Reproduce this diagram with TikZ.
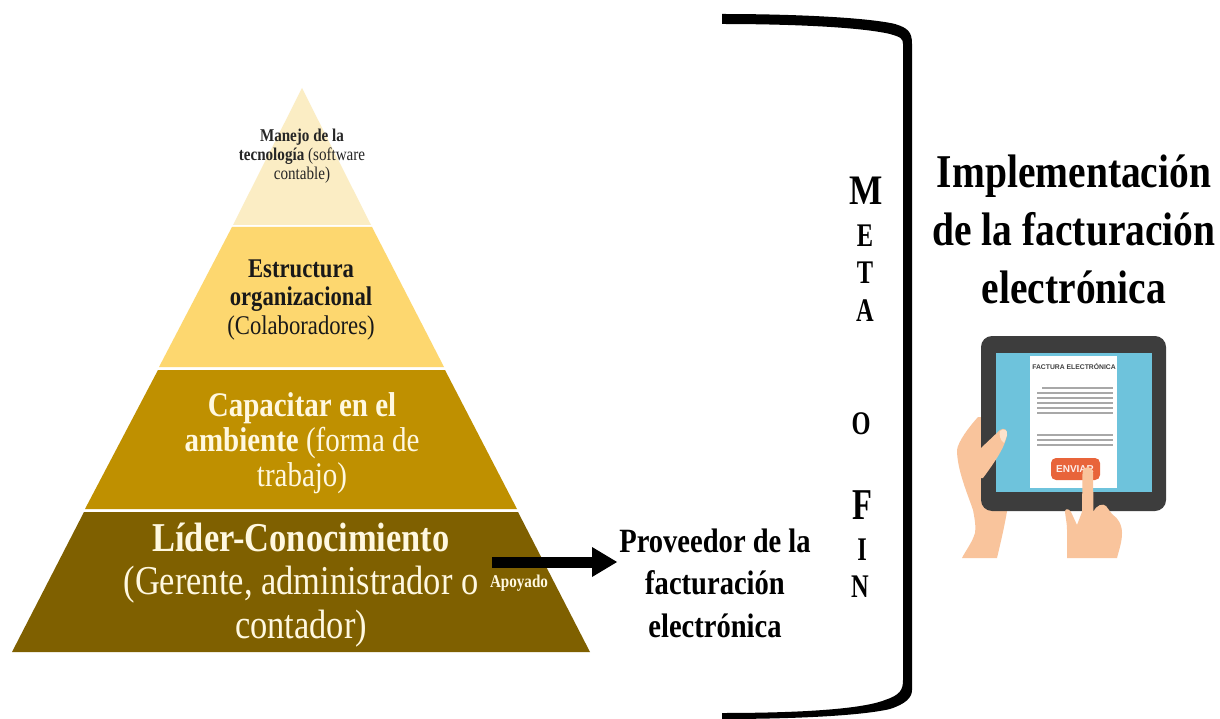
\documentclass[tikz,border=0pt]{standalone}
\usepackage{fontspec}
\setmainfont{Liberation Serif}
\newfontfamily\nrw[FakeStretch=0.84]{Liberation Serif}
\newfontfamily\nrwb[FakeStretch=0.74]{Liberation Serif}
\newfontfamily\tabfont{Liberation Sans}
\definecolor{lay1}{HTML}{FBEDC4}
\definecolor{lay2}{HTML}{FDD76F}
\definecolor{lay3}{HTML}{BF9000}
\definecolor{lay4}{HTML}{7F6000}
\definecolor{txtw}{HTML}{FFF8E0}
\definecolor{tabdark}{HTML}{3D3D3D}
\definecolor{tabscreen}{HTML}{6EC3DC}
\definecolor{skin}{HTML}{F9C49C}
\definecolor{nail}{HTML}{FCE3CC}
\definecolor{btn}{HTML}{E8643A}
\definecolor{docline}{HTML}{A8A8A8}
\tikzset{
  x=1pt,y=-1pt,
  lbl/.style={align=center,inner sep=0pt,font=\nrw},
  arr/.style={black,fill=black},
  letter/.style={inner sep=0pt,font=\nrwb\bfseries\fontsize{33}{35}\selectfont},
  bigletter/.style={inner sep=0pt,font=\nrwb\bfseries\fontsize{44}{46}\selectfont},
}
\begin{document}
\begin{tikzpicture}
\useasboundingbox (0,0) rectangle (1220,719);
\fill[white] (0,0) rectangle (1220,719);
% pyramid
\fill[lay1] (302,88) -- (371,225) -- (233,225) -- cycle;
\fill[lay2] (232,227) -- (372,227) -- (444,367) -- (159,367) -- cycle;
\fill[lay3] (158,370) -- (445,370) -- (517,509) -- (85,509) -- cycle;
\fill[lay4] (84,512) -- (518,512) -- (590,652) -- (12,652) -- cycle;
% pyramid text
\node[lbl,text=black!85,font=\nrw\fontsize{18}{19}\selectfont] (t1) at (302,156) {\textbf{Manejo de la}\\\textbf{tecnología} (software\\contable)};
\node[lbl,text=black!90,font=\nrw\fontsize{27}{28.5}\selectfont] (t2) at (301,300) {\textbf{Estructura}\\\textbf{organizacional}\\(Colaboradores)};
\node[lbl,text=txtw,font=\nrw\fontsize{34.5}{35}\selectfont] (t3) at (302,443) {\textbf{Capacitar en el}\\\textbf{ambiente} (forma de\\trabajo)};
\node[lbl,text=txtw,font=\nrw\fontsize{41}{43.5}\selectfont] (t4) at (301,585) {\textbf{Líder-Conocimiento}\\(Gerente, administrador o\\contador)};
\node[lbl,text=txtw,font=\nrw\bfseries\fontsize{18}{20}\selectfont] (apo) at (519,583) {Apoyado};
% provider
\node[lbl,text=black,font=\nrw\bfseries\fontsize{34}{42.5}\selectfont] (prov) at (715,583) {Proveedor de la\\facturación\\electrónica};
\coordinate (astart) at (492,562);
\coordinate (atip) at (617,562);
\draw[line width=11pt,black] (astart) -- (592,562);
\fill[arr] (592,547) -- (atip) -- (592,577) -- cycle;
% bracket
\fill[black] (722,14) .. controls (800,14) and (870,18) .. (895,24) .. controls (908,28) and (912,32) .. (912,44) -- (912,690) .. controls (912,698) and (905,704) .. (890,709) .. controls (860,716) and (790,719) .. (722,719) -- (722,713) .. controls (790,713) and (860,710) .. (885,700) .. controls (900,695) and (903,690) .. (903,680) -- (903,44) .. controls (903,38) and (900,37) .. (890,34) .. controls (860,27) and (790,24) .. (722,24) -- cycle;
% meta
\node[bigletter,font=\nrw\bfseries\fontsize{42}{44}\selectfont] (m) at (866,191) {M};
\node[letter] (e) at (865,236) {E};
\node[letter] (tt) at (865,273) {T};
\node[letter] (a) at (865,311) {A};
\node[letter] (o) at (861,424) {O};
\node[bigletter] (f) at (862,505) {F};
\node[letter] (i) at (862,550) {I};
\node[letter] (n) at (860,587) {N};
% title
\node[lbl,text=black,font=\nrw\bfseries\fontsize{47}{58}\selectfont] (title) at (1074,229) {Implementación\\de la facturación\\electrónica};
% tablet: left hand behind
\fill[skin] (978,417) .. controls (968,428) and (958,442) .. (957,450) .. controls (957,470) and (968,495) .. (973,510) .. controls (975,520) and (976,528) .. (975,533) .. controls (972,543) and (966,550) .. (962,558) -- (997,558) .. controls (1000,545) and (1005,525) .. (1008,505) -- (985,470) -- (985,417) -- cycle;
\fill[tabdark,rounded corners=11pt] (981,336) rectangle (1166,511);
\fill[tabscreen] (996,353) rectangle (1152,492);
\fill[white] (1030,356) rectangle (1117,488);
% thumb
\fill[skin] (981,448) -- (1000,430) .. controls (1004,427) and (1008,430) .. (1007,435) .. controls (1005,445) and (1000,455) .. (983,478) -- (981,478) -- cycle;
\fill[nail] (1000,431) .. controls (1004,428) and (1008,430) .. (1007,435) .. controls (1006,438) and (1005,441) .. (1004,443) .. controls (1000,440) and (999,435) .. (1000,431) -- cycle;
\node[inner sep=0pt,text=black!75,font=\tabfont\bfseries\fontsize{6.8}{8}\selectfont] (ftxt) at (1074,367) {FACTURA ELECTRÓNICA};
\foreach \yy/\xa in {388/1042,393/1037,398/1037,403/1037,408/1037,413/1037,435/1037,440/1037,445/1037}
  \draw[docline,line width=1.6pt] (\xa,\yy) -- (1113,\yy);
\fill[btn,rounded corners=5pt] (1051,458) rectangle (1100,480);
\node[inner sep=0pt,text=white!90!btn,font=\tabfont\bfseries\fontsize{10}{10}\selectfont] (btxt) at (1075,469) {ENVIAR};
% right hand
\fill[skin] (1082,512) -- (1082.5,473) .. controls (1083,465) and (1092.5,465) .. (1093,473) -- (1093.5,512) .. controls (1096,505) and (1103,503) .. (1106,506) .. controls (1109,510) and (1111,513) .. (1113,515) .. controls (1118,518) and (1122,525) .. (1122,533) .. controls (1122,542) and (1119,550) .. (1117,558) -- (1067,558) -- (1067,530) .. controls (1067,522) and (1065,515) .. (1065,511) .. controls (1066,508) and (1069,509) .. (1071,512) -- (1077,525) -- (1082,512) -- cycle;
\end{tikzpicture}
\end{document}
